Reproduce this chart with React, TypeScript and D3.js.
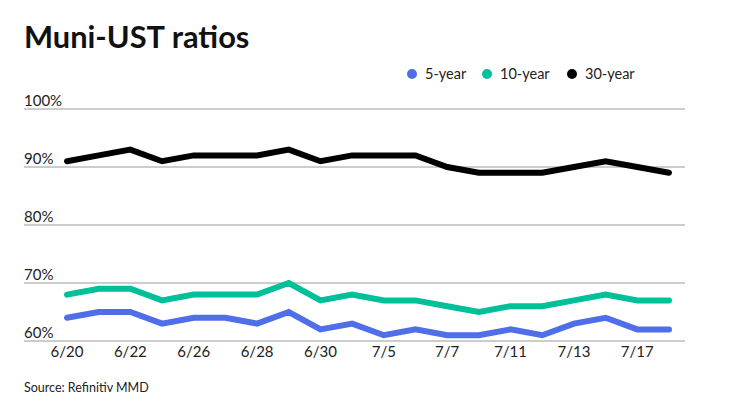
import React from "react";
import * as d3 from "d3";

const dates = ["6/20","6/21","6/22","6/23","6/26","6/27","6/28","6/29","6/30","7/3","7/5","7/6","7/7","7/10","7/11","7/12","7/13","7/14","7/17","7/18"];
const fiveYear = [64,65,65,63,64,64,63,65,62,63,61,62,61,61,62,61,63,64,62,62];
const tenYear = [68,69,69,67,68,68,68,70,67,68,67,67,66,65,66,66,67,68,67,67];
const thirtyYear = [91,92,93,91,92,92,92,93,91,92,92,92,90,89,89,89,90,91,90,89];
const yTicks = [60,70,80,90,100];
const xLabels = ["6/20","6/22","6/26","6/28","6/30","7/5","7/7","7/11","7/13","7/17"];

const seriesList = [
  { name: "5-year", values: fiveYear, color: "#4f6ee8" },
  { name: "10-year", values: tenYear, color: "#00c09a" },
  { name: "30-year", values: thirtyYear, color: "#000000" },
];

const FONT = "Lato, 'Open Sans', sans-serif";

export default function App() {
  const W = 740, H = 416;
  const x = d3.scalePoint<string>().domain(dates).range([67, 669]);
  const y = d3.scaleLinear().domain([60, 100]).range([341, 109]);
  const line = d3.line<number>().x((_, i) => x(dates[i]) as number).y((d) => y(d));
  const legendX = [412, 487, 572];
  return (
    <svg width={W} height={H} style={{ position: "absolute", left: 0, top: 0, background: "#fff" }} fontFamily={FONT}>
      <rect width={W} height={H} fill="#fff" />
      <text x={24} y={48} fontSize={30.8} fontWeight={700} fill="#111">Muni-UST ratios</text>
      {seriesList.map((s, i) => (
        <g key={s.name}>
          <circle cx={legendX[i]} cy={74} r={5} fill={s.color} />
          <text x={legendX[i] + 13} y={79} fontSize={14.5} fill="#222">{s.name}</text>
        </g>
      ))}
      {yTicks.map((t) => (
        <g key={t}>
          <line x1={24} x2={685} y1={y(t)} y2={y(t)} stroke="#9a9a9a" strokeWidth={1} />
          <text x={24} y={y(t) - 3} fontSize={15} fill="#222">{t}%</text>
        </g>
      ))}
      {xLabels.map((l) => (
        <text key={l} x={x(l) as number} y={357} fontSize={15} fill="#222" textAnchor="middle">{l}</text>
      ))}
      {seriesList.map((s) => (
        <path key={s.name} d={line(s.values) || ""} fill="none" stroke={s.color} strokeWidth={6} strokeLinejoin="miter" strokeLinecap="round" />
      ))}
      <text x={24} y={392} fontSize={12.5} fill="#222">Source: Refinitiv MMD</text>
    </svg>
  );
}
